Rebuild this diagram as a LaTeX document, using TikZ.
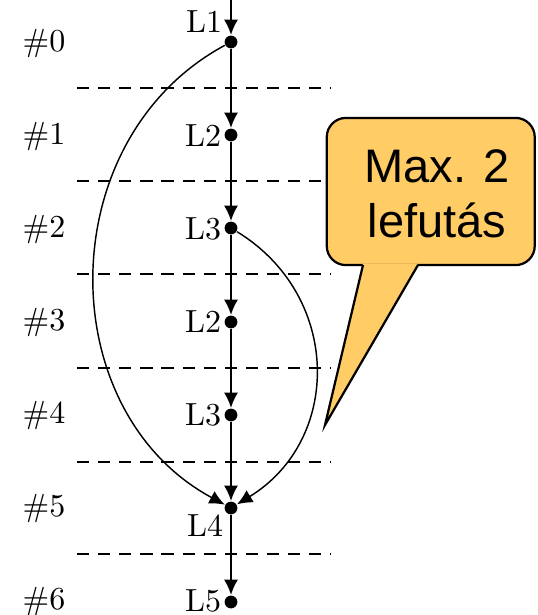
\documentclass[tikz,border=0pt]{standalone}
\usepackage{fontspec}
\newfontfamily\calloutfont{Liberation Sans}
\usetikzlibrary{arrows.meta}
\definecolor{calloutfill}{RGB}{255,204,102}
\begin{document}
\begin{tikzpicture}[x=0.3125pt,y=-0.3125pt,
  dot/.style={circle,fill=black,inner sep=0pt,minimum size=4pt},
  flow/.style={line width=0.45pt,-{Latex[length=4.8pt,width=4.4pt]}},
  vflow/.style={flow,line width=0.55pt},
  sep/.style={line width=0.4pt,dash pattern=on 3.8pt off 2.8pt},
  lbl/.style={inner sep=0pt,font=\normalsize},
  callbox/.style={draw,line width=0.7pt,rounded corners=6pt,fill=calloutfill,
    minimum width=65pt,minimum height=46pt},
  calltxt/.style={inner sep=0pt,align=center,
    font=\calloutfont\fontsize{14.7}{17.2}\selectfont}]
\useasboundingbox (0,0) rectangle (537,615);
% separators
\foreach \y in {88,181,274,368,462,554} \draw[sep] (77,\y) -- (331,\y);
% row labels
\node[lbl] (r0) at (44,43) {$\#0$};
\node[lbl] (r1) at (44,136) {$\#1$};
\node[lbl] (r2) at (44,229) {$\#2$};
\node[lbl] (r3) at (44,322) {$\#3$};
\node[lbl] (r4) at (44,415) {$\#4$};
\node[lbl] (r5) at (44,508) {$\#5$};
\node[lbl] (r6) at (44,601) {$\#6$};
% dots
\coordinate (top) at (231,0);
\node[dot] (n0) at (231,42) {};
\node[dot] (n1) at (231,135) {};
\node[dot] (n2) at (231,228) {};
\node[dot] (n3) at (231,322) {};
\node[dot] (n4) at (231,415) {};
\node[dot] (n5) at (231,508) {};
\node[dot] (n6) at (231,602) {};
% labels
\node[lbl] (l0) at (204,22) {L1};
\node[lbl] (l1) at (203,136) {L2};
\node[lbl] (l2) at (203,229) {L3};
\node[lbl] (l3) at (203,322) {L2};
\node[lbl] (l4) at (203,415) {L3};
\node[lbl] (l5) at (205,526) {L4};
\node[lbl] (l6) at (203,601) {L5};
% connectors
\draw[vflow] (top) -- (n0);
\draw[vflow] (n0) -- (n1);
\draw[vflow] (n1) -- (n2);
\draw[vflow] (n2) -- (n3);
\draw[vflow] (n3) -- (n4);
\draw[vflow] (n4) -- (n5);
\draw[vflow] (n5) -- (n6);
\draw[flow] (n0) .. controls (51,139) and (51,411) .. (n5);
\draw[flow] (n2) .. controls (342,296) and (342,440) .. (n5);
% callout
\node[callbox] (callout) at (430.75,191.5) {};
\node[calltxt] (calltext) at (437,194) {Max. 2\\lefutás};
\coordinate (tip) at (325,425);
\fill[calloutfill] (363,263.5) -- (tip) -- (418,263.5) -- cycle;
\draw[line width=0.7pt,line join=miter] (363,265) -- (tip) -- (418,265);
\end{tikzpicture}
\end{document}
